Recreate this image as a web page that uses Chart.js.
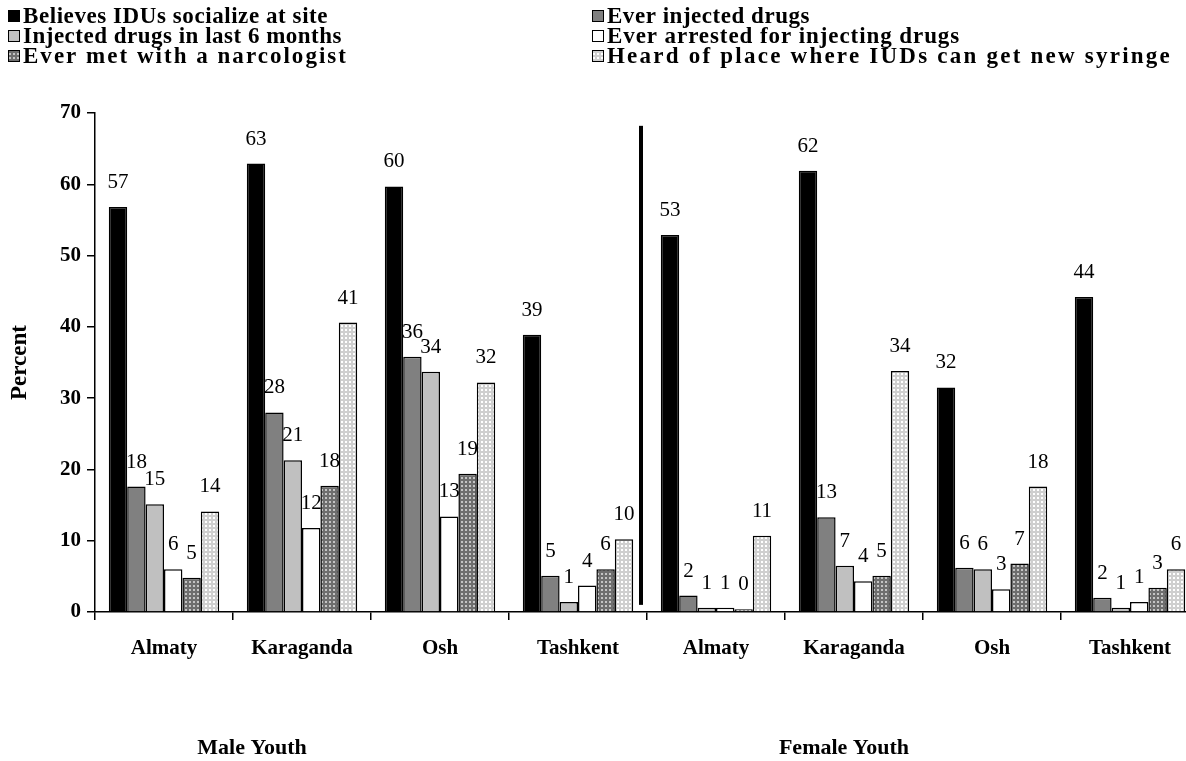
<!DOCTYPE html>
<html>
<head>
<meta charset="utf-8">
<script src="https://cdn.jsdelivr.net/npm/chart.js@4"></script>
<style>
	html, body { margin: 0; padding: 0; background: #fff; overflow: hidden; }
	#wrap { width: 1200px; height: 761px; }
</style>
</head>
<body>
<div id="wrap"><canvas id="chart" width="1200" height="761"></canvas></div>
<script>
"use strict"

// данные
const categories = ['Almaty', 'Karaganda', 'Osh', 'Tashkent', 'Almaty', 'Karaganda', 'Osh', 'Tashkent'];
const groups = ['Male Youth', 'Female Youth'];
const seriesNames = [
	'Believes IDUs socialize at site',
	'Ever injected drugs',
	'Injected drugs in last 6 months',
	'Ever arrested for injecting drugs',
	'Ever met with a narcologist',
	'Heard of place where IUDs can get new syringe'
];
const socialize = [56.8, 62.9, 59.7, 38.9, 52.9, 61.9, 31.5, 44.2];
const everInjected = [17.6, 28.0, 35.8, 5.1, 2.3, 13.3, 6.2, 2.0];
const injected6m = [15.1, 21.3, 33.7, 1.4, 0.6, 6.5, 6.0, 0.6];
const arrested = [6.0, 11.8, 13.4, 3.7, 0.6, 4.3, 3.2, 1.4];
const narcologist = [4.8, 17.7, 19.4, 6.0, 0.4, 5.1, 6.8, 3.4];
const heardSyringe = [14.1, 40.6, 32.2, 10.2, 10.7, 33.8, 17.6, 6.0];
const yTicks = [0, 10, 20, 30, 40, 50, 60, 70];

const serif = '"Liberation Serif", "Times New Roman", serif';

// штриховки
function makePattern(base, dot) {
	const c = document.createElement('canvas');
	c.width = 4;
	c.height = 4;
	const p = c.getContext('2d');
	p.fillStyle = base;
	p.fillRect(0, 0, 4, 4);
	p.fillStyle = dot;
	p.fillRect(1, 1, 2, 2);
	return p.createPattern(c, 'repeat');
}

const darkDots = makePattern('#6e6e6e', '#c4c4c4');
const lightDots = makePattern('#cfcfcf', '#ffffff');

const fills = ['#000000', '#808080', '#c0c0c0', '#ffffff', darkDots, lightDots];
const values = [socialize, everInjected, injected6m, arrested, narcologist, heardSyringe];

// подписи над столбцами, разделитель, легенда, подписи групп
const extras = {
	id: 'extras',
	afterDatasetsDraw(chart) {
		const ctx = chart.ctx;
		ctx.save();
		ctx.fillStyle = '#000';
		ctx.font = '21px ' + serif;
		ctx.textAlign = 'center';
		ctx.textBaseline = 'alphabetic';
		chart.data.datasets.forEach((ds, i) => {
			const meta = chart.getDatasetMeta(i);
			meta.data.forEach((bar, j) => {
				ctx.fillText(String(Math.round(ds.data[j])), bar.x, bar.y - 19);
			});
		});

		const x = chart.scales.x;
		const y = chart.scales.y;
		const divX = x.getPixelForValue(3.5) - 6;
		ctx.fillRect(divX - 2, y.getPixelForValue(68.2), 4, y.getPixelForValue(1) - y.getPixelForValue(68.2));
		ctx.restore();
	},
	afterDraw(chart) {
		const ctx = chart.ctx;
		ctx.save();
		ctx.font = 'bold 23px ' + serif;
		ctx.textBaseline = 'middle';
		ctx.textAlign = 'left';
		const colX = [8, 592];
		const rowY = [16, 36, 56];
		const textEnd = [328, 810, 342, 960, 348, 1172]; // где кончается текст в оригинале
		chart.data.datasets.forEach((ds, i) => {
			const bx = colX[i % 2];
			const by = rowY[Math.floor(i / 2)];
			ctx.fillStyle = ds.backgroundColor;
			ctx.fillRect(bx, by - 6, 12, 12);
			ctx.strokeStyle = '#000';
			ctx.lineWidth = 1;
			ctx.strokeRect(bx + 0.5, by - 5.5, 11, 11);
			ctx.fillStyle = '#000';
			const tx = bx + 15;
			ctx.letterSpacing = '0px';
			const w = ctx.measureText(ds.label).width;
			const ls = Math.max(0, (textEnd[i] - tx - w) / ds.label.length);
			ctx.letterSpacing = ls.toFixed(2) + 'px';
			ctx.fillText(ds.label, tx, by + 1);
		});

		ctx.letterSpacing = '0px';
		ctx.font = 'bold 22px ' + serif;
		ctx.textAlign = 'center';
		ctx.fillText(groups[0], 252, 748);
		ctx.fillText(groups[1], 844, 748);
		ctx.restore();
	}
};

const datasets = seriesNames.map((name, i) => ({
	label: name,
	data: values[i],
	backgroundColor: fills[i],
	borderColor: '#000',
	borderWidth: 1.5,
	categoryPercentage: 0.8,
	barPercentage: 1.0
}));

new Chart(document.getElementById('chart'), {
	type: 'bar',
	data: { labels: categories, datasets: datasets },
	options: {
		responsive: false,
		animation: false,
		devicePixelRatio: 1,
		layout: { padding: { top: 113, right: 1, left: 0, bottom: 0 } },
		plugins: {
			legend: { display: false },
			tooltip: { enabled: false }
		},
		scales: {
			x: {
				grid: { drawOnChartArea: false, drawTicks: true, tickLength: 8, color: '#000', lineWidth: 1.5 },
				border: { color: '#000', width: 1.5 },
				ticks: { color: '#000', font: { family: serif, size: 21, weight: 'bold' }, padding: 16, maxRotation: 0, autoSkip: false },
				afterFit(scale) { scale.height = 149; }
			},
			y: {
				min: 0,
				max: 70,
				afterBuildTicks(scale) { scale.ticks = yTicks.map(v => ({ value: v })); },
				grid: { drawOnChartArea: false, drawTicks: true, tickLength: 8, color: '#000', lineWidth: 1.5 },
				border: { color: '#000', width: 1.5 },
				ticks: { color: '#000', font: { family: serif, size: 21, weight: 'bold' }, padding: 6 },
				title: { display: true, text: 'Percent', color: '#000', font: { family: serif, size: 23, weight: 'bold' }, padding: { top: 6, bottom: 0 } },
				afterFit(scale) { scale.width = 95; }
			}
		}
	},
	plugins: [extras]
});
</script>
</body>
</html>
